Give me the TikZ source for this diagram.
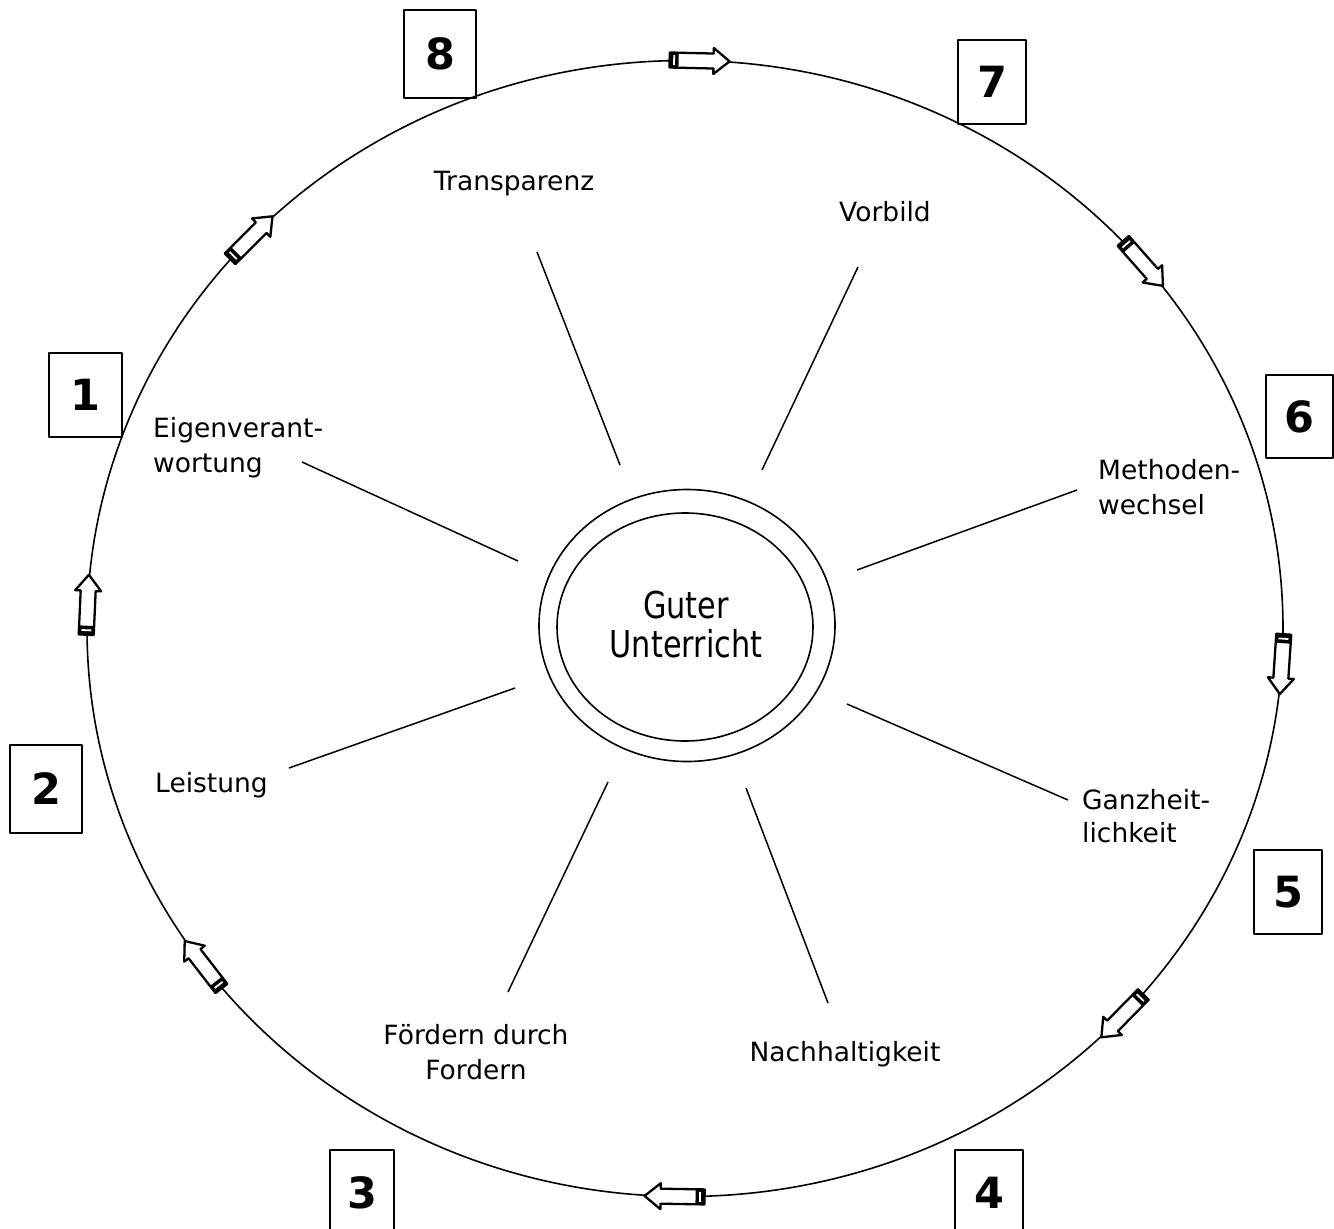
\documentclass[tikz,border=0pt]{standalone}
\usepackage{fontspec}
\setmainfont{DejaVu Sans}
\newfontfamily\centerfont[FakeStretch=0.82]{DejaVu Sans}
\tikzset{
  lbl/.style={font=\fontsize{26.5}{35}\selectfont, inner sep=0pt},
  numbox/.style={draw, line width=1.6pt, minimum width=70pt, minimum height=86pt,
                 inner sep=0pt, font=\fontsize{43}{43}\bfseries\selectfont},
  spoke/.style={line width=1.5pt},
  ring/.style={line width=1.6pt},
  ringarrow/.pic={
    \filldraw[fill=white, line width=2.3pt] (-30,-7.5) -- (14,-7.5) -- (14,-13) -- (30,0)
        -- (14,13) -- (14,7.5) -- (-30,7.5) -- cycle;
    \fill (-30,-7.5) rectangle (-21,7.5);
    \draw[white, line width=1.8pt] (-25.5,-5) -- (-25.5,5);
  }
}
\begin{document}
\begin{tikzpicture}[x=1pt,y=-1pt,line join=round]
\useasboundingbox (0,0) rectangle (1334,1229);
\clip (0,0) rectangle (1334,1229);
\fill[white] (0,0) rectangle (1334,1229);

% outer ring
\draw[ring] (685,628.5) ellipse [x radius=598, y radius=568];

% ring arrows (clockwise)
\foreach \t in {88.6,40,-3.6,-43,-91,-143.7,177.6,136.5}{
  \pgfmathsetmacro\ang{atan2(-568*cos(\t),598*sin(\t))}
  \pic[rotate=\ang] at ({685+598*cos(\t)},{628.5-568*sin(\t)}) {ringarrow};
}

% centre
\draw[ring] (687,625.5) ellipse [x radius=148, y radius=136];
\draw[ring] (685,627) ellipse [x radius=128, y radius=114];
\node[font=\centerfont\fontsize{37}{39}\selectfont, align=center, inner sep=0pt] (core) at (686,625) {Guter\\Unterricht};

% labels
\node[lbl, anchor=base] (transp) at (514,190) {Transparenz};
\node[lbl, anchor=base] (vorb) at (885,221) {Vorbild};
\node[lbl, anchor=base west] (meth1) at (1098,479) {Methoden-};
\node[lbl, anchor=base west] (meth2) at (1098,514) {wechsel};
\node[lbl, anchor=base west] (ganz1) at (1082,809) {Ganzheit-};
\node[lbl, anchor=base west] (ganz2) at (1082,842) {lichkeit};
\node[lbl, anchor=base] (nach) at (845,1061) {Nachhaltigkeit};
\node[lbl, anchor=base] (foerd1) at (476,1044) {Fördern durch};
\node[lbl, anchor=base] (foerd2) at (476,1079) {Fordern};
\node[lbl, anchor=base west] (leist) at (155,792) {Leistung};
\node[lbl, anchor=base west] (eig1) at (153,437) {Eigenverant-};
\node[lbl, anchor=base west] (eig2) at (153,472) {wortung};

% spokes
\coordinate (sA1) at (537,252);  \coordinate (sA2) at (620,465);
\coordinate (sB1) at (858,267);  \coordinate (sB2) at (762,470);
\coordinate (sC1) at (1077,490); \coordinate (sC2) at (857,570);
\coordinate (sD1) at (1068,800); \coordinate (sD2) at (847,704);
\coordinate (sE1) at (828,1003); \coordinate (sE2) at (746,788);
\coordinate (sF1) at (508,992);  \coordinate (sF2) at (608,782);
\coordinate (sG1) at (289,768);  \coordinate (sG2) at (515,688);
\coordinate (sH1) at (302,462);  \coordinate (sH2) at (518,561);
\foreach \s in {A,B,C,D,E,F,G,H}{ \draw[spoke] (s\s1) -- (s\s2); }

% number boxes
\node[numbox, minimum width=72pt, minimum height=88pt] (n8) at (440,54) {8};
\node[numbox, minimum width=68pt, minimum height=84pt] (n7) at (992,82) {7};
\node[numbox, minimum width=67pt, minimum height=83pt] (n6) at (1299.5,416.5) {6};
\node[numbox, minimum width=73pt, minimum height=84pt] (n1) at (85.5,395) {1};
\node[numbox, minimum width=72pt, minimum height=88pt] (n2) at (46,789) {2};
\node[numbox, minimum width=68pt, minimum height=84pt] (n5) at (1288,892) {5};
\node[numbox, minimum width=64pt, minimum height=86pt] (n3) at (362,1193) {3};
\node[numbox, minimum width=68pt, minimum height=86pt] (n4) at (989,1193) {4};
\end{tikzpicture}
\end{document}
